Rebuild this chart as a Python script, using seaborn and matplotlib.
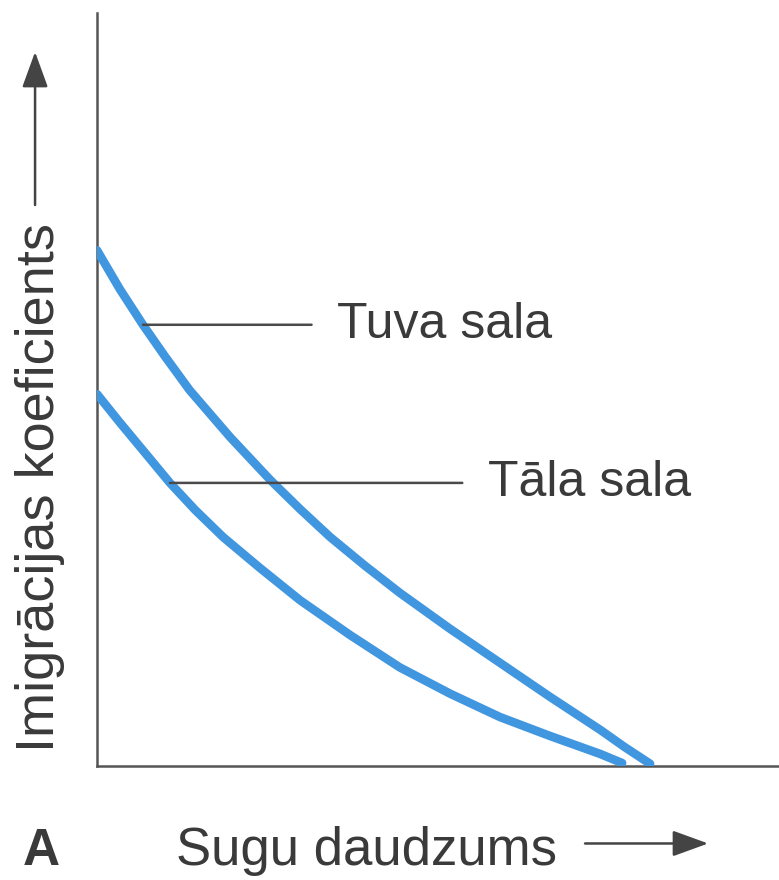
import pandas as pd
import matplotlib
matplotlib.use("Agg")
import matplotlib.pyplot as plt
from matplotlib.patches import FancyArrowPatch
import seaborn as sns

# --- Data (axes 0..100 both ways) ---
tuva_x = [0.0, 3.37, 6.74, 9.97, 13.6, 19.5, 25.4, 29.8, 34.2,
          39.3, 44.4, 51.8, 59.1, 66.4, 73.8, 77.4, 81.1]
tuva_y = [68.5, 63.3, 58.6, 54.4, 49.9, 43.7, 38.0, 34.1, 30.4,
          26.6, 23.0, 18.2, 13.7, 9.2, 4.8, 2.5, 0.3]
tala_x = [0.0, 3.37, 7.04, 10.7, 14.4, 18.5, 23.9, 29.8, 37.1,
          44.4, 51.8, 59.1, 66.4, 73.8, 77.0]
tala_y = [49.4, 45.6, 41.6, 37.6, 34.0, 30.4, 26.3, 22.0, 17.4,
          13.1, 9.6, 6.5, 4.0, 1.6, 0.4]

series_names = ["Tuva sala", "Tāla sala"]
x_label = "Sugu daudzums"
y_label = "Imigrācijas koeficients"
panel_letter = "A"

# where each leader line touches its curve, and where its label starts
label_point_idx = [2, 3]
label_text_x = [35.2, 57.3]

LINE_COLOR = "#4196e0"
TEXT_COLOR = "#3a3a3a"
SPINE_COLOR = "#555555"

df = pd.concat([
    pd.DataFrame({"x": tuva_x, "y": tuva_y, "sala": series_names[0]}),
    pd.DataFrame({"x": tala_x, "y": tala_y, "sala": series_names[1]}),
], ignore_index=True)

sns.set_style("white")
plt.rcParams["font.family"] = ["Liberation Sans", "DejaVu Sans"]

fig = plt.figure(figsize=(7.79, 8.8), dpi=100)
ax = fig.add_axes([0.1245, 0.1295, 0.8755, 0.8557])

sns.lineplot(data=df, x="x", y="y", hue="sala", sort=False,
             palette=[LINE_COLOR, LINE_COLOR], linewidth=6.2,
             legend=False, ax=ax, solid_joinstyle="round")

ax.set_xlim(0, 100)
ax.set_ylim(0, 100)
ax.set_xticks([])
ax.set_yticks([])
ax.set_xlabel("")
ax.set_ylabel("")
sns.despine(ax=ax, top=True, right=True)
for side in ["left", "bottom"]:
    ax.spines[side].set_color(SPINE_COLOR)
    ax.spines[side].set_linewidth(1.8)
    ax.spines[side].set_zorder(0.5)

# --- Leader lines and curve labels ---
curves = [(tuva_x, tuva_y), (tala_x, tala_y)]
for (cx, cy), name, idx, tx in zip(curves, series_names, label_point_idx, label_text_x):
    ax.annotate(name, xy=(cx[idx], cy[idx]), xytext=(tx, cy[idx]),
                ha="left", va="center", fontsize=36, color=TEXT_COLOR,
                arrowprops=dict(arrowstyle="-", color="#4a4a4a", lw=1.8,
                                shrinkA=16, shrinkB=0))

# --- Axis labels with arrows ---
fig.text(0.051, 0.4455, y_label, rotation=90, ha="center", va="center",
         fontsize=39, color=TEXT_COLOR)
fig.text(0.471, 0.017, x_label, ha="center", va="baseline",
         fontsize=38, color=TEXT_COLOR)
fig.text(0.053, 0.017, panel_letter, ha="center", va="baseline",
         fontsize=37, fontweight="bold", color=TEXT_COLOR)

arrow_kw = dict(arrowstyle="-|>,head_length=1.1,head_width=0.4",
                color="#444444", lw=1.8, shrinkA=0, shrinkB=0)
fig.add_artist(FancyArrowPatch((0.045, 0.767), (0.045, 0.941),
                               transform=fig.transFigure,
                               mutation_scale=20, **arrow_kw))
fig.add_artist(FancyArrowPatch((0.751, 0.0415), (0.909, 0.0415),
                               transform=fig.transFigure,
                               mutation_scale=20, **arrow_kw))

fig.savefig("out.png", dpi=100, facecolor="white")
plt.close(fig)
